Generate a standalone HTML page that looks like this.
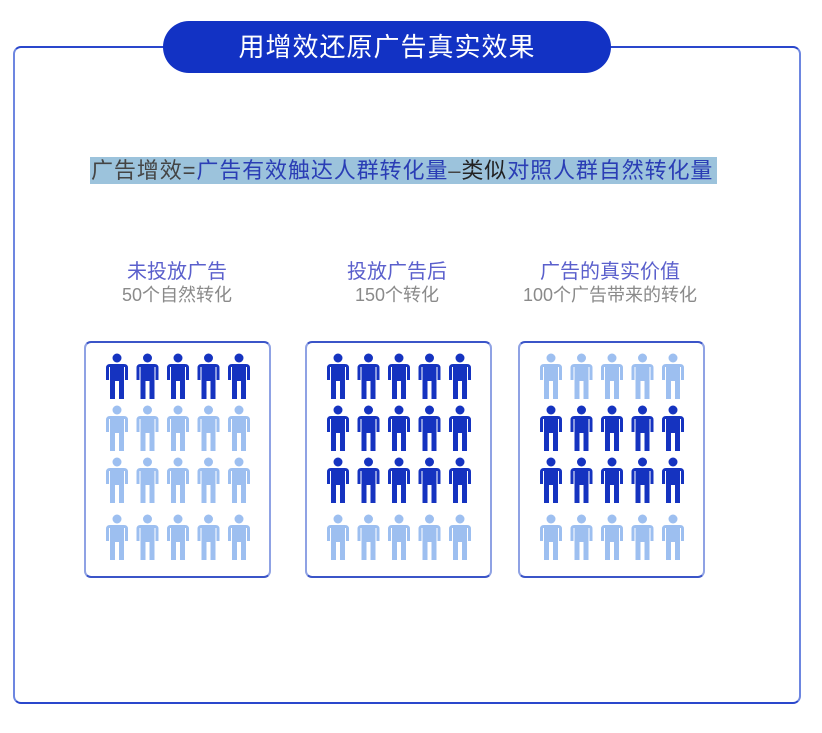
<!DOCTYPE html>
<html><head><meta charset="utf-8"><style>
body{margin:0;width:822px;height:733px;background:#fff;position:relative;font-family:"Liberation Sans","Noto Sans CJK SC",sans-serif;overflow:hidden}
.frame{position:absolute;left:13px;top:46px;width:784px;height:654px;border:2.5px solid #2a47cc;border-radius:8px;border-left-color:#6d86e0;border-right-color:#6d86e0}
.pill{position:absolute;left:163px;top:21px;width:448px;height:52px;border-radius:26px;background:#1232c4;color:#fff;font-size:26px;line-height:52px;text-align:center;letter-spacing:1px}
.formula{position:absolute;left:90px;top:157px;width:627px;height:27px;background:#9cc3dc;font-size:22px;line-height:27px;color:#444;white-space:nowrap;letter-spacing:0.9px;padding-left:1px;box-sizing:border-box}
.b{color:#2a3db5}.k{color:#222}
.h{position:absolute;width:240px;text-align:center;font-size:20px;color:#5a5fcc}
.s{position:absolute;width:240px;text-align:center;font-size:18px;color:#8a8a8a}
.box{position:absolute;top:341px;width:183px;height:233px;border:2px solid #3b55c8;border-radius:7px;border-left-color:#8fa2e4;border-right-color:#8fa2e4}
svg{position:absolute;left:0;top:0}
</style></head><body>
<div class="frame"></div>
<div class="pill">用增效还原广告真实效果</div>
<div class="formula">广告增效=<span class="b">广告有效触达人群转化量</span>–<span class="k">类似</span><span class="b">对照人群自然转化量</span></div>
<div class="h" style="left:57px;top:255px">未投放广告</div><div class="s" style="left:57px;top:281px">50个自然转化</div>
<div class="h" style="left:277px;top:255px">投放广告后</div><div class="s" style="left:277px;top:281px">150个转化</div>
<div class="h" style="left:490px;top:255px">广告的真实价值</div><div class="s" style="left:490px;top:281px">100个广告带来的转化</div>
<div class="box" style="left:84px"></div><div class="box" style="left:305px"></div><div class="box" style="left:518px"></div>
<svg width="822" height="733" id="s">
<defs><g id="p"><circle cx="11" cy="5" r="4.5"/><path d="M4 11h14q4 0 4 4v12h-3v-13h-1v32h-5v-18h-4v18h-5v-32h-1v13h-3v-12q0-4 4-4z"/></g></defs>
</svg>
<script>
var s=document.getElementById('s'),D='#1533c0',L='#9dbff0';
var boxes=[[106,[D,L,L,L]],[327,[D,D,D,L]],[540,[L,D,D,L]]];
var rows=[353,405,457,514];
boxes.forEach(function(b){for(var r=0;r<4;r++)for(var c=0;c<5;c++){var u=document.createElementNS('http://www.w3.org/2000/svg','use');u.setAttribute('href','#p');u.setAttribute('x',b[0]+c*30.5);u.setAttribute('y',rows[r]);u.setAttribute('fill',b[1][r]);s.appendChild(u);}});
</script>
</body></html>
